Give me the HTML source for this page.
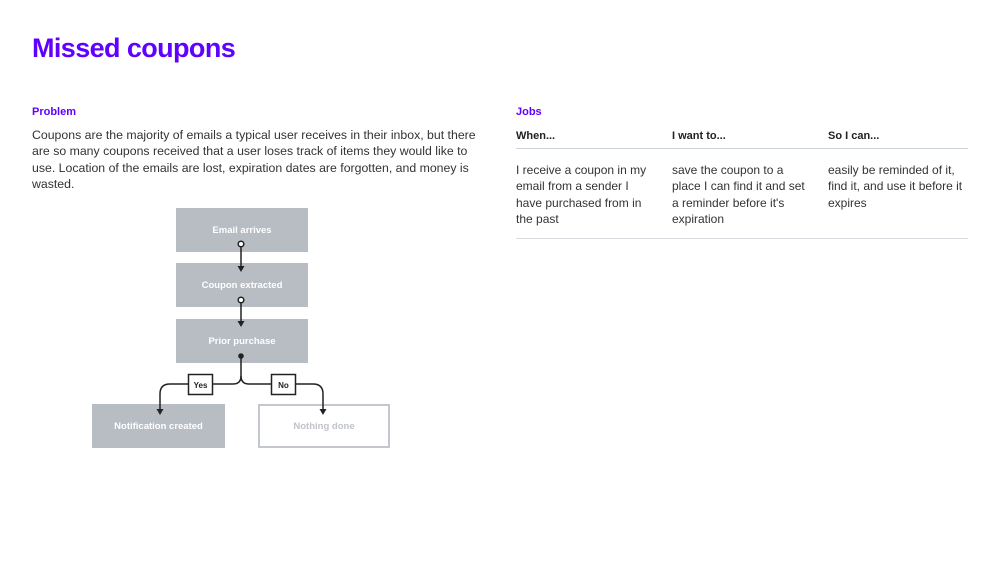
<!DOCTYPE html>
<html><head><meta charset="utf-8"><style>
body{margin:0;width:1000px;height:563px;background:#fff;font-family:"Liberation Sans",sans-serif;color:#333;position:relative;overflow:hidden}
.a{position:absolute}
h1{position:absolute;left:32px;top:33px;margin:0;font-size:27px;font-weight:900;color:#6001ff;letter-spacing:-0.6px}
.lbl{font-size:11px;font-weight:bold;color:#6001ff}
.body{font-size:12px;line-height:16.3px;color:#333}
.box{position:absolute;background:#b8bcc3;color:#fff;font-size:9.5px;font-weight:bold;display:flex;align-items:center;justify-content:center}
.th{font-size:11px;font-weight:bold;color:#222}
</style></head><body>
<h1>Missed coupons</h1>
<div class="a lbl" style="left:32px;top:106px">Problem</div>
<div class="a body" style="left:32px;top:127px;width:450px;font-size:12.3px">Coupons are the majority of emails a typical user receives in their inbox, but there are so many coupons received that a user loses track of items they would like to use. Location of the emails are lost, expiration dates are forgotten, and money is wasted.</div>

<div class="box" style="left:176px;top:208px;width:132px;height:44px">Email arrives</div>
<div class="box" style="left:176px;top:263px;width:132px;height:44px">Coupon extracted</div>
<div class="box" style="left:176px;top:319px;width:132px;height:44px">Prior purchase</div>
<div class="box" style="left:92px;top:404px;width:133px;height:44px">Notification created</div>
<div class="box" style="left:258px;top:404px;width:128px;height:40px;background:#fff;border:2px solid #c4c7cd;color:#c0c3c9">Nothing done</div>
<svg class="a" style="left:0;top:0" width="1000" height="563">
<g stroke="#222" stroke-width="1.5" fill="none">
<line x1="241" y1="246" x2="241" y2="268"/>
<line x1="241" y1="302" x2="241" y2="323"/>
<path d="M241 356 V376 Q241 384 233 384 H170 Q160 384 160 394 V410"/>
<path d="M241 376 Q241 384 249 384 H313 Q323 384 323 394 V410"/>
<circle cx="241" cy="244" r="2.8" fill="#fff"/>
<circle cx="241" cy="300" r="2.8" fill="#fff"/>
</g>
<circle cx="241" cy="356" r="2.8" fill="#222"/>
<g fill="#222"><path d="M237.5 266 L244.5 266 L241 272Z"/><path d="M237.5 321 L244.5 321 L241 327Z"/><path d="M156.5 409 L163.5 409 L160 415Z"/><path d="M319.5 409 L326.5 409 L323 415Z"/></g>
<rect x="188.5" y="374.5" width="24" height="20" fill="#fff" stroke="#222" stroke-width="1.5"/>
<rect x="271.5" y="374.5" width="24" height="20" fill="#fff" stroke="#222" stroke-width="1.5"/>
<text x="200.5" y="388" font-size="8" font-weight="bold" text-anchor="middle" fill="#222" font-family="Liberation Sans">Yes</text>
<text x="283.5" y="388" font-size="8" font-weight="bold" text-anchor="middle" fill="#222" font-family="Liberation Sans">No</text>
<line x1="516" y1="148.5" x2="968" y2="148.5" stroke="#cdd3da"/>
<line x1="516" y1="238.5" x2="968" y2="238.5" stroke="#d8dce1"/>
</svg>

<div class="a lbl" style="left:516px;top:106px">Jobs</div>
<div class="a th" style="left:516px;top:130px">When...</div>
<div class="a th" style="left:672px;top:130px">I want to...</div>
<div class="a th" style="left:828px;top:130px">So I can...</div>
<div class="a body" style="left:516px;top:162px;width:140px">I receive a coupon in my email from a sender I have purchased from in the past</div>
<div class="a body" style="left:672px;top:162px;width:142px">save the coupon to a place I can find it and set a reminder before it's expiration</div>
<div class="a body" style="left:828px;top:162px;width:140px">easily be reminded of it, find it, and use it before it expires</div>
</body></html>
